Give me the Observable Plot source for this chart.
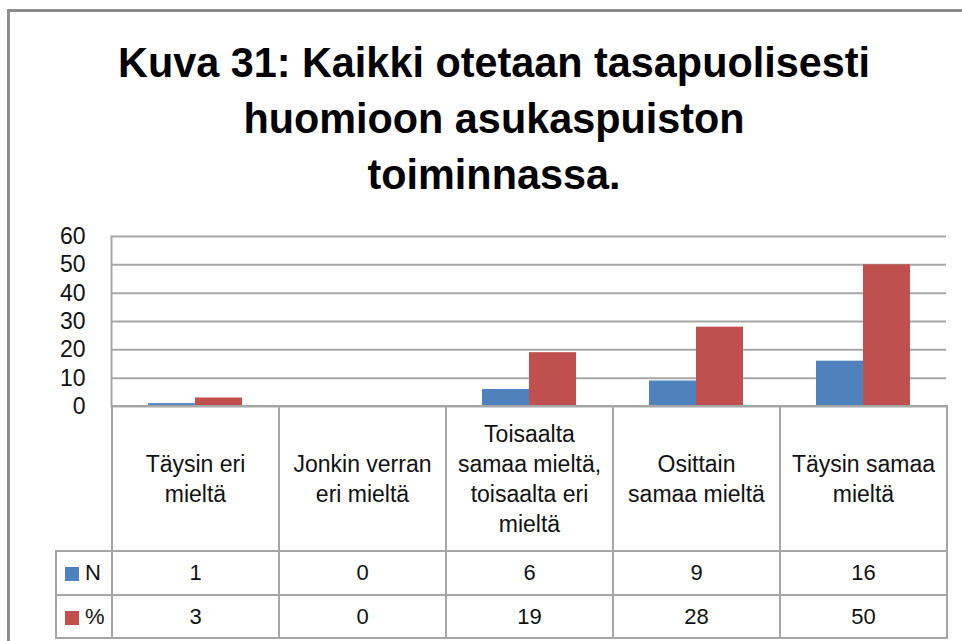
<!DOCTYPE html>
<html>
<head>
<meta charset="utf-8">
<script src="https://cdn.jsdelivr.net/npm/d3@7"></script>
<script src="https://cdn.jsdelivr.net/npm/@observablehq/plot@0.6"></script>
<style>
html, body { margin: 0; padding: 0; background: #fff; width: 962px; height: 641px; overflow: hidden; }
#wrap { position: relative; width: 962px; height: 641px; overflow: hidden; }
#frame { position: absolute; left: 7px; top: 9px; width: 1000px; height: 700px;
  border-left: 3px solid #8c8c8c; border-top: 3px solid #8c8c8c; }
#title { position: absolute; left: 8px; width: 972px; top: 34px; text-align: center;
  font-family: "Liberation Sans Narrow", "Arial Narrow", "Liberation Sans", sans-serif;
  font-weight: bold; font-size: 43px; line-height: 56px; color: #000; transform-origin: 50% 0; }
#chart { position: absolute; left: 0; top: 226px; }
#table { position: absolute; left: 55px; top: 405px; border-collapse: collapse; table-layout: fixed;
  font-family: "Liberation Sans", Arial, sans-serif; color: #111; }
#table td { border: 2px solid #a6a6a6; padding: 0; text-align: center; vertical-align: middle; font-size: 22px; }
#table td.hdr { font-size: 23px; line-height: 30px; white-space: pre-line; }
#table td.blank { border-top: none; border-left: none; }
#table td.leg { text-align: left; padding-left: 8px; font-size: 22px; }
.sw { display: inline-block; width: 14px; height: 14px; margin-right: 6px; vertical-align: -1px; }
</style>
</head>
<body>
<div id="wrap">
  <div id="frame"></div>
  <div id="title"></div>
  <div id="chart"></div>
  <table id="table"></table>
</div>
<script>
// ---- data ----
const titleLines = ["Kuva 31: Kaikki otetaan tasapuolisesti", "huomioon asukaspuiston", "toiminnassa."];
const categories = [
  "Täysin eri\nmieltä",
  "Jonkin verran\neri mieltä",
  "Toisaalta\nsamaa mieltä,\ntoisaalta eri\nmieltä",
  "Osittain\nsamaa mieltä",
  "Täysin samaa\nmieltä"
];
const seriesNames = ["N", "%"];
const seriesColors = ["#4f81bd", "#c0504d"];
const nValues = [1, 0, 6, 9, 16];
const pctValues = [3, 0, 19, 28, 50];
const yTicks = [0, 10, 20, 30, 40, 50, 60];

// ---- title ----
const titleEl = document.getElementById("title");
titleLines.forEach(t => { const d = document.createElement("div"); d.textContent = t; titleEl.appendChild(d); });
(function fitTitle() {
  const c = document.createElement("canvas").getContext("2d");
  c.font = 'bold 43px "Liberation Sans Narrow", "Arial Narrow", "Liberation Sans", sans-serif';
  const w = c.measureText(titleLines[0]).width;
  const target = 752;
  if (w > 0) titleEl.style.transform = `scaleX(${target / w})`;
})();

// ---- chart ----
const rows = categories.flatMap((c, i) => [
  {cat: c, series: seriesNames[0], value: nValues[i]},
  {cat: c, series: seriesNames[1], value: pctValues[i]}
]);

const chart = Plot.plot({
  width: 962,
  height: 184,
  marginLeft: 111,
  marginRight: 16,
  marginTop: 10,
  marginBottom: 4,
  style: {fontFamily: '"Liberation Sans", Arial, sans-serif', fontSize: "23px", color: "#111", background: "transparent", overflow: "visible"},
  fx: {domain: categories, padding: 0, axis: null},
  x: {domain: seriesNames, paddingInner: 0, paddingOuter: 0.74, axis: null},
  y: {domain: [0, 60]},
  color: {domain: seriesNames, range: seriesColors},
  marks: [
    Plot.gridY(yTicks, {stroke: "#a6a6a6", strokeOpacity: 1, strokeWidth: 2}),
    Plot.frame({anchor: "left", facetAnchor: "left", stroke: "#a6a6a6", strokeWidth: 2}),
    Plot.axisY(yTicks, {tickSize: 0, tickPadding: 26, label: null}),
    Plot.barY(rows, {fx: "cat", x: "series", y: "value", fill: "series", inset: 0})
  ]
});
document.getElementById("chart").appendChild(chart);

// ---- data table ----
const table = document.getElementById("table");
const cg = document.createElement("colgroup");
[56, ...categories.map(() => 167)].forEach(w => { const col = document.createElement("col"); col.style.width = w + "px"; cg.appendChild(col); });
table.appendChild(cg);

const hr = document.createElement("tr");
hr.style.height = "145px";
const blank = document.createElement("td"); blank.className = "blank"; hr.appendChild(blank);
categories.forEach(c => { const td = document.createElement("td"); td.className = "hdr"; td.textContent = c; hr.appendChild(td); });
table.appendChild(hr);

[nValues, pctValues].forEach((vals, si) => {
  const tr = document.createElement("tr");
  tr.style.height = si === 0 ? "44px" : "43px";
  const lg = document.createElement("td"); lg.className = "leg";
  const sw = document.createElement("span"); sw.className = "sw"; sw.style.background = seriesColors[si];
  lg.appendChild(sw); lg.appendChild(document.createTextNode(seriesNames[si]));
  tr.appendChild(lg);
  vals.forEach(v => { const td = document.createElement("td"); td.textContent = v; tr.appendChild(td); });
  table.appendChild(tr);
});
</script>
</body>
</html>
